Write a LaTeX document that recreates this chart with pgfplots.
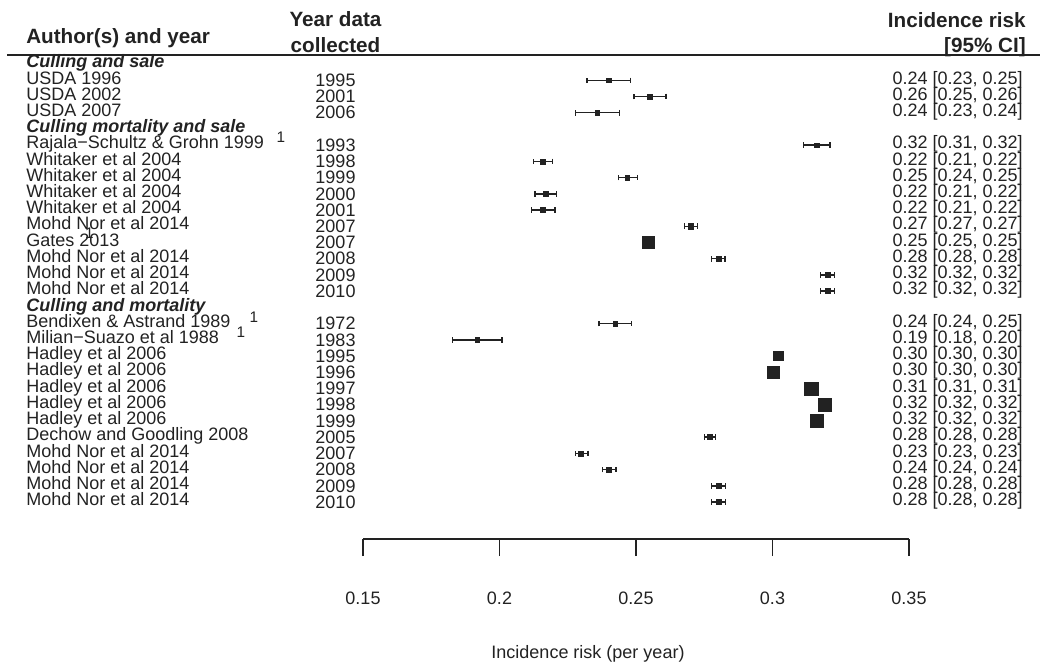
\documentclass[border=0pt]{standalone}
\usepackage{pgfplots}
\pgfplotsset{compat=1.18}
\usepackage{pgfplotstable}
\usepackage{fontspec}
\setmainfont{Liberation Sans}
\definecolor{cDark}{HTML}{222222}

% row (0 = first line under the header rule), estimate, lower, upper, half side of square (pt)
\pgfplotstableread{
row est lo hi ms
1 0.2399 0.2321 0.2479 1.8
2 0.2549 0.2492 0.2610 1.8
3 0.2358 0.2279 0.2439 1.8
5 0.3161 0.3113 0.3211 1.8
6 0.2159 0.2124 0.2195 1.8
7 0.2468 0.2435 0.2505 1.8
8 0.2169 0.2130 0.2209 1.8
9 0.2159 0.2117 0.2203 1.8
10 0.2701 0.2677 0.2726 1.9
11 0.2544 0.2538 0.2550 4.5
12 0.2802 0.2777 0.2826 1.9
13 0.3202 0.3176 0.3228 1.9
14 0.3202 0.3176 0.3228 1.9
16 0.2424 0.2364 0.2484 1.7
17 0.1919 0.1827 0.2009 1.7
18 0.3021 0.3012 0.3030 3.5
19 0.3002 0.2992 0.3012 4.5
20 0.3142 0.3134 0.3150 4.9
21 0.3190 0.3182 0.3198 4.9
22 0.3161 0.3153 0.3169 4.9
23 0.2770 0.2750 0.2792 1.9
24 0.2299 0.2278 0.2324 1.9
25 0.2400 0.2377 0.2426 1.9
26 0.2802 0.2777 0.2827 1.9
27 0.2802 0.2777 0.2827 1.9
}\forestdata

\newcommand\bodyfont{\fontsize{13.5pt}{15pt}\selectfont}
\newcommand\headfont{\bfseries\fontsize{15.5pt}{17pt}\selectfont}

\begin{document}
\begin{tikzpicture}
\useasboundingbox (0,0) rectangle (780pt,501.75pt);
% data panel: whole picture, x in risk units, y in rows
\begin{axis}[
  at={(0,0)}, anchor=south west,
  scale only axis, width=780pt, height=501.75pt,
  xmin=0.017033, xmax=0.397985,
  ymin=-3.9507, ymax=37.2947, y dir=reverse,
  hide axis, clip=false]
\addplot[scatter, only marks, mark=square*,
  scatter/use mapped color={draw=cDark,fill=cDark},
  visualization depends on={\thisrow{ms}\as\msz},
  scatter/@pre marker code/.append style={/tikz/mark size=\msz},
  error bars/.cd, x dir=both, x explicit,
  error bar style={line width=1.1pt, cDark},
  error mark options={rotate=90, mark size=2.1pt, line width=1.1pt, cDark}]
  table[x=est, y=row,
    x error plus expr=\thisrow{hi}-\thisrow{est},
    x error minus expr=\thisrow{est}-\thisrow{lo}] {\forestdata};
\end{axis}
% x axis of the forest plot
\begin{axis}[
  at={(272.25pt,97.5pt)}, anchor=south west,
  scale only axis, width=409.5pt, height=20pt,
  xmin=0.15, xmax=0.35, ymin=0, ymax=1,
  axis x line*=bottom, axis y line=none,
  x axis line style={-, line width=1.2pt, cDark},
  xtick={0.15,0.2,0.25,0.3,0.35},
  xticklabels={0.15,0.2,0.25,0.3,0.35},
  tick align=outside, major tick length=12.75pt,
  every tick/.style={line width=1.2pt, cDark},
  xticklabel style={font=\bodyfont, text=cDark, anchor=base, yshift=-36.5pt}]
\addplot[draw=none] coordinates {(0.2,0.5)};
\end{axis}
% text, in pixel units of the reference
\begin{scope}[x=0.75pt, y=-0.75pt, yshift=501.75pt, every node/.style={inner sep=0pt, text=cDark}]
\draw[cDark, line width=1.5pt] (7,55.5) -- (1040,55.5);
\node[anchor=base west, font=\headfont] at (26,44) {Author(s) and year};
\node[anchor=base, font=\headfont] at (335.5,27) {Year data};
\node[anchor=base, font=\headfont] at (335.5,52.5) {collected};
\node[anchor=base east, font=\headfont] at (1026,27.3) {Incidence risk};
\node[anchor=base east, font=\headfont] at (1026,52.5) {[95\% CI]};
\foreach \r/\g in {0/Culling and sale, 4/Culling mortality and sale, 15/Culling and mortality}
  {\node[anchor=base west, font=\bodyfont\bfseries\itshape] at (26,{67.8+16.22*\r}) {\g};}
\foreach \r/\nm/\yr/\ci in {
  1/USDA 1996/1995/{0.24 [0.23, 0.25]},
  2/USDA 2002/2001/{0.26 [0.25, 0.26]},
  3/USDA 2007/2006/{0.24 [0.23, 0.24]},
  5/Rajala−Schultz \& Grohn 1999/1993/{0.32 [0.31, 0.32]},
  6/Whitaker et al 2004/1998/{0.22 [0.21, 0.22]},
  7/Whitaker et al 2004/1999/{0.25 [0.24, 0.25]},
  8/Whitaker et al 2004/2000/{0.22 [0.21, 0.22]},
  9/Whitaker et al 2004/2001/{0.22 [0.21, 0.22]},
  10/Mohd Nor et al 2014/2007/{0.27 [0.27, 0.27]},
  11/Gates 2013/2007/{0.25 [0.25, 0.25]},
  12/Mohd Nor et al 2014/2008/{0.28 [0.28, 0.28]},
  13/Mohd Nor et al 2014/2009/{0.32 [0.32, 0.32]},
  14/Mohd Nor et al 2014/2010/{0.32 [0.32, 0.32]},
  16/Bendixen \& Astrand 1989/1972/{0.24 [0.24, 0.25]},
  17/Milian−Suazo et al 1988/1983/{0.19 [0.18, 0.20]},
  18/Hadley et al 2006/1995/{0.30 [0.30, 0.30]},
  19/Hadley et al 2006/1996/{0.30 [0.30, 0.30]},
  20/Hadley et al 2006/1997/{0.31 [0.31, 0.31]},
  21/Hadley et al 2006/1998/{0.32 [0.32, 0.32]},
  22/Hadley et al 2006/1999/{0.32 [0.32, 0.32]},
  23/Dechow and Goodling 2008/2005/{0.28 [0.28, 0.28]},
  24/Mohd Nor et al 2014/2007/{0.23 [0.23, 0.23]},
  25/Mohd Nor et al 2014/2008/{0.24 [0.24, 0.24]},
  26/Mohd Nor et al 2014/2009/{0.28 [0.28, 0.28]},
  27/Mohd Nor et al 2014/2010/{0.28 [0.28, 0.28]}}
{
  \node[anchor=base west, font=\bodyfont] at (26,{67.8+16.22*\r}) {\nm};
  \node[anchor=base, font=\bodyfont] at (335.5,{70.3+16.22*\r}) {\yr};
  \node[anchor=base east, font=\bodyfont] at (1023,{67.8+16.22*\r}) {\ci};
}
\foreach \x/\y in {281/143, 89.5/239, 254/323, 241/338}
  {\node[anchor=base, font=\fontsize{11.5pt}{12pt}\selectfont] at (\x,\y) {1};}
\node[anchor=base, font=\bodyfont] at (588,658.5) {Incidence risk (per year)};
\end{scope}
\end{tikzpicture}
\end{document}
